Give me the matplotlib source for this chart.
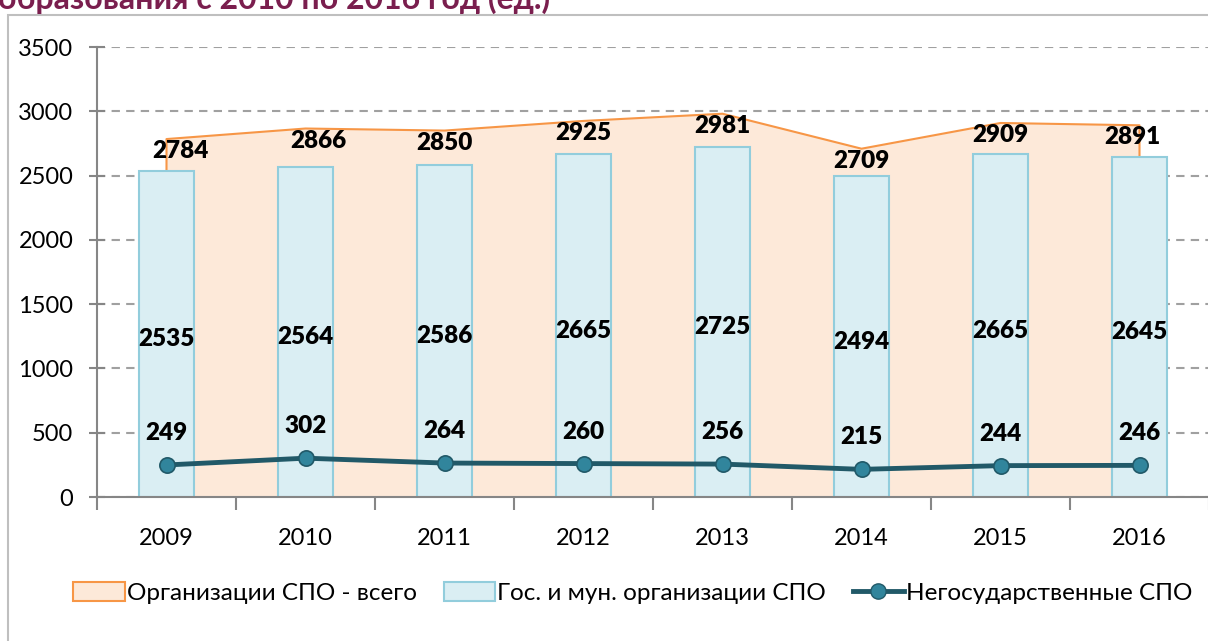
import matplotlib
matplotlib.use("Agg")
import matplotlib.pyplot as plt
from matplotlib.patches import Rectangle, Patch
from matplotlib.lines import Line2D
import numpy as np

years = ["2009", "2010", "2011", "2012", "2013", "2014", "2015", "2016"]
total = [2784, 2866, 2850, 2925, 2981, 2709, 2909, 2891]
state = [2535, 2564, 2586, 2665, 2725, 2494, 2665, 2645]
private = [249, 302, 264, 260, 256, 215, 244, 246]

series_names = ["Организации СПО - всего", "Гос. и мун. организации СПО", "Негосударственные СПО"]
title_text = "образования с 2010 по 2016 год (ед.)"
yticks = [0, 500, 1000, 1500, 2000, 2500, 3000, 3500]

plt.rcParams['font.family'] = ['Lato', 'DejaVu Sans']

W, H = 1208, 641
fig = plt.figure(figsize=(W / 100, H / 100), dpi=100)

# outer chart border
fig.patches.append(Rectangle((8 / W, -0.1), 1.2, 1 - 15 / H + 0.1, transform=fig.transFigure,
                             fill=False, edgecolor="#BFBFBF", linewidth=1.5, zorder=0))
fig.text(-2 / W, 1 - 9 / H, title_text, color="#7A1E4E", fontsize=23, fontweight="bold",
         ha="left", va="baseline")

ax = fig.add_axes([97 / W, 1 - 497 / H, (1209 - 97) / W, (497 - 47) / H])
x = np.arange(len(years))

# area (total)
ax.fill_between(x, total, 0, color="#FDE9D9", linewidth=0, zorder=1)
ax.plot(np.concatenate([[x[0]], x, [x[-1]]]), [0] + total + [0], color="#F79646",
        linewidth=1.5, zorder=1.5)

# bars (state)
ax.bar(x, state, width=0.40, color="#DAEEF3", edgecolor="#92CDDC", linewidth=1.5, zorder=2)

# line (private)
ax.plot(x, private, color="#215968", linewidth=3.5, marker="o", markersize=11,
        markerfacecolor="#31859C", markeredgecolor="#215968", markeredgewidth=1.2, zorder=3)

lbl = dict(fontsize=17.5, fontweight="heavy", color="black", ha="center", va="center", zorder=5)
total_dx = [14, 13, 0, 0, 0, 0, 0, -7]
for i in range(len(years)):
    ax.annotate(str(total[i]), (x[i], total[i]), xytext=(total_dx[i], -12),
                textcoords="offset pixels", **lbl)
    ax.annotate(str(state[i]), (x[i], state[i] / 2), xytext=(0, -5),
                textcoords="offset pixels", **lbl)
    ax.annotate(str(private[i]), (x[i], private[i]), xytext=(0, 32),
                textcoords="offset pixels", **lbl)

ax.set_xlim(-0.5, len(years) - 0.5)
ax.set_ylim(0, 3500)
ax.set_yticks(yticks)
ax.set_yticklabels([str(v) for v in yticks])
ax.set_xticks(x)
ax.set_xticklabels(years)
ax.set_xticks(np.arange(-0.5, len(years), 1), minor=True)
ax.tick_params(axis="x", which="major", length=0, pad=22, labelsize=17)
ax.tick_params(axis="x", which="minor", length=9, width=1.5, color="#868686", direction="out")
ax.tick_params(axis="y", length=12, width=1.5, color="#868686", direction="inout", pad=11, labelsize=17)

ax.grid(axis="y", linestyle=(0, (4, 3)), color="#A0A0A0", linewidth=1.5, zorder=0)
ax.set_axisbelow(True)
for s in ["top", "right"]:
    ax.spines[s].set_visible(False)
for s in ["left", "bottom"]:
    ax.spines[s].set_color("#868686")
    ax.spines[s].set_linewidth(1.5)
    ax.spines[s].set_zorder(4)
ax.patch.set_alpha(0)

handles = [
    Patch(facecolor="#FDE9D9", edgecolor="#F79646", linewidth=1.5),
    Patch(facecolor="#DAEEF3", edgecolor="#92CDDC", linewidth=1.5),
    Line2D([0], [0], color="#215968", linewidth=3.5, marker="o", markersize=11,
           markerfacecolor="#31859C", markeredgecolor="#215968"),
]
fig.legend(handles, series_names, loc="center", bbox_to_anchor=(633 / W, 1 - 593 / H),
           ncol=3, frameon=False, fontsize=17.5, handlelength=2.1, handleheight=0.8,
           handletextpad=0.1, columnspacing=1.1)

fig.savefig("out.png", dpi=100)
